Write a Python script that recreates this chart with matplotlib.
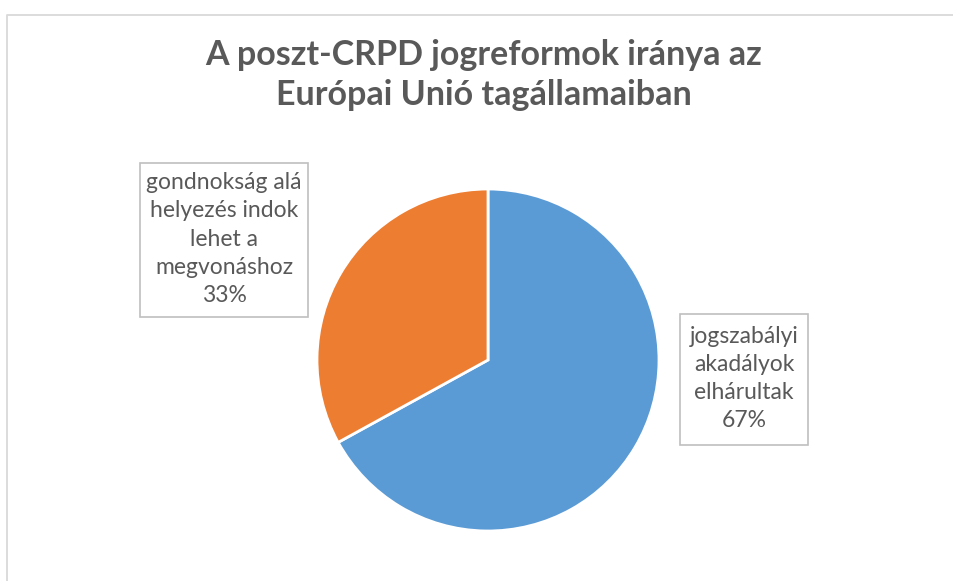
import matplotlib
matplotlib.use("Agg")
import matplotlib.pyplot as plt
from matplotlib.patches import Rectangle

# adatok
categories = ["jogszabályi\nakadályok\nelhárultak", "gondnokság alá\nhelyezés indok\nlehet a\nmegvonáshoz"]
values = [67, 33]
colors = ["#5B9BD5", "#ED7D31"]
title = "A poszt-CRPD jogreformok iránya az\nEurópai Unió tagállamaiban"

GRAY = "#595959"
W, H = 954, 581

plt.rcParams["font.family"] = ["Lato", "DejaVu Sans"]
fig = plt.figure(figsize=(W / 100, H / 100), dpi=100)
ax = fig.add_axes([0, 0, 1, 1])

# keret
ax.plot([7.5, 7.5, W + 5], [-5, H - 14.5, H - 14.5], color="#d9d9d9", lw=1.3, solid_capstyle="butt")

ax.pie(values, colors=colors, startangle=90, counterclock=False,
       center=(488, H - 360), radius=171, frame=True,
       wedgeprops=dict(edgecolor="white", linewidth=2))
ax.set_xlim(0, W)
ax.set_ylim(0, H)
ax.set_aspect("equal")
ax.axis("off")

ax.text(484, H - 75, title, ha="center", va="center", fontsize=24.5, fontweight="bold",
        color=GRAY, linespacing=1.3)

# címkék dobozokban
boxes = [(680, H - 445, 128, 131), (140, H - 317, 168, 154)]
for lab, v, (x0, y0, bw, bh) in zip(categories, values, boxes):
    ax.add_patch(Rectangle((x0, y0), bw, bh, facecolor="white", edgecolor="#bfbfbf", lw=1.2))
    ax.text(x0 + bw / 2, y0 + bh / 2 + 1, f"{lab}\n{v}%", ha="center", va="center",
            fontsize=16.5, color=GRAY, linespacing=1.42)

fig.savefig("out.png", dpi=100)
